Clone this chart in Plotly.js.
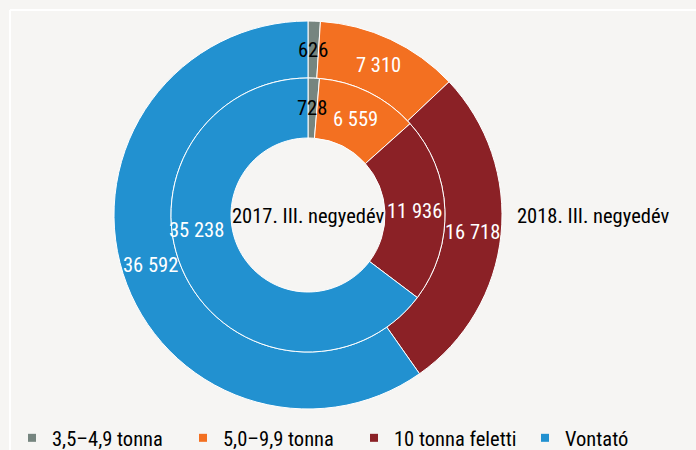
<!DOCTYPE html>
<html><head><meta charset="utf-8">
<script src="https://cdn.plot.ly/plotly-3.0.1.min.js"></script>
<style>html,body{margin:0;padding:0;background:#f6f5f3;}</style>
</head><body>
<div id="chart" style="width:696px;height:450px;"></div>
<script>
const categories = ['3,5–4,9 tonna', '5,0–9,9 tonna', '10 tonna feletti', 'Vontató'];
const values2017 = [728, 6559, 11936, 35238];
const values2018 = [626, 7310, 16718, 36592];
const labels2017 = ['728', '6 559', '11 936', '35 238'];
const labels2018 = ['626', '7 310', '16 718', '36 592'];
const colors = ['#76857f', '#f37021', '#8b2126', '#2291d0'];
const textColors = ['#000000', '#ffffff', '#ffffff', '#ffffff'];
const periodLabels = ['2017. III. negyedév', '2018. III. negyedév'];

const FONT = '"Arial Narrow", "Roboto Condensed", "Liberation Sans Narrow", "Liberation Sans", Arial, sans-serif';
const W = 696, H = 450;
const cx = 308, cyTop = 215;
const rOuter = 194, rMid = 137, rHole = 77;
// label nudges in pixels (layout only): [xshift, yshift] per slice
const nudge2018 = [[0, 0], [0, 0], [0, 0], [0, 0]];
const nudge2017 = [[0, 0], [0, 0], [0, 0], [-16, 33]];

function dom(r) {
  const cyB = H - cyTop;
  return { x: [(cx - r) / W, (cx + r) / W], y: [(cyB - r) / H, (cyB + r) / H] };
}

const base = {
  type: 'pie', labels: categories, sort: false, direction: 'clockwise', rotation: 0,
  textinfo: 'none', hoverinfo: 'label+value', showlegend: false,
  marker: { colors: colors, line: { color: '#ffffff', width: 1 } }
};
const traces = [
  Object.assign({}, base, { values: values2018, domain: dom(rOuter), hole: rMid / rOuter, name: periodLabels[1] }),
  Object.assign({}, base, { values: values2017, domain: dom(rMid), hole: rHole / rMid, name: periodLabels[0] })
];
categories.forEach((c, i) => {
  traces.push({ type: 'scatter', mode: 'markers', x: [null], y: [null], name: c, showlegend: true,
    marker: { symbol: 'square', size: 8, color: colors[i] }, hoverinfo: 'skip' });
});

// value labels at the middle of each slice (angle from the data, radius = middle of the ring)
function sliceLabels(values, texts, rIn, rOut, nudge) {
  const total = values.reduce((s, v) => s + v, 0);
  const rm = (rIn + rOut) / 2;
  let cum = 0;
  return values.map((v, i) => {
    const a = 2 * Math.PI * (cum + v / 2) / total;
    cum += v;
    const px = cx + rm * Math.sin(a), py = cyTop - rm * Math.cos(a);
    return { text: texts[i], xref: 'paper', yref: 'paper', x: px / W, y: 1 - py / H,
      xshift: nudge[i][0], yshift: nudge[i][1],
      showarrow: false, xanchor: 'center', yanchor: 'middle',
      font: { family: FONT, size: 20.5, color: textColors[i] } };
  });
}

const layout = {
  width: W, height: H,
  margin: { l: 0, r: 0, t: 0, b: 0, autoexpand: false },
  paper_bgcolor: '#f6f5f3', plot_bgcolor: 'rgba(0,0,0,0)',
  xaxis: { visible: false, domain: [0, 0.01] }, yaxis: { visible: false, domain: [0, 0.01] },
  showlegend: true,
  legend: { orientation: 'h', x: 12 / W, y: 12 / H, xanchor: 'left', yanchor: 'middle',
    bgcolor: 'rgba(0,0,0,0)', font: { family: FONT, size: 20.5, color: '#000' },
    entrywidth: 126, entrywidthmode: 'pixels', itemwidth: 30, tracegroupgap: 0 },
  annotations: [
    { text: periodLabels[0], xref: 'paper', yref: 'paper', x: 308 / W, y: (H - 216) / H,
      showarrow: false, font: { family: FONT, size: 20.5, color: '#000' }, xanchor: 'center', yanchor: 'middle' },
    { text: periodLabels[1], xref: 'paper', yref: 'paper', x: 593 / W, y: (H - 216) / H,
      showarrow: false, font: { family: FONT, size: 20.5, color: '#000' }, xanchor: 'center', yanchor: 'middle' }
  ].concat(sliceLabels(values2018, labels2018, rMid, rOuter, nudge2018),
           sliceLabels(values2017, labels2017, rHole, rMid, nudge2017)),
  shapes: [
    { type: 'line', xref: 'paper', yref: 'paper', x0: 10 / W, x1: 1, y0: 1 - 10 / H, y1: 1 - 10 / H, line: { color: '#ffffff', width: 2 } },
    { type: 'line', xref: 'paper', yref: 'paper', x0: 10 / W, x1: 10 / W, y0: 0, y1: 1 - 10 / H, line: { color: '#ffffff', width: 2 } }
  ]
};
Plotly.newPlot('chart', traces, layout, { displayModeBar: false, staticPlot: true });
</script>
</body></html>
